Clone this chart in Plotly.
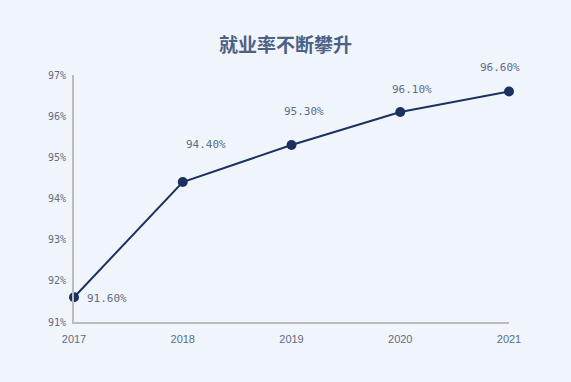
import plotly.graph_objects as go

years = [2017, 2018, 2019, 2020, 2021]
rates = [91.6, 94.4, 95.3, 96.1, 96.6]
labels = ["91.60%", "94.40%", "95.30%", "96.10%", "96.60%"]
y_ticks = [91, 92, 93, 94, 95, 96, 97]
y_tick_text = ["91%", "92%", "93%", "94%", "95%", "96%", "97%"]

# label offsets (pixels) relative to each point
label_dx = [33, 23, 12, 12, -9]
label_dy = [-1, 38, 33, 23, 24]

bg = "#f0f5fc"
tick_color = "#5e6c84"
line_color = "#1b3260"

fig = go.Figure()
fig.add_trace(go.Scatter(
    x=years, y=rates, mode="lines+markers",
    line=dict(color=line_color, width=2),
    marker=dict(color=line_color, size=10),
    cliponaxis=False, hoverinfo="skip",
))

for x, y, t, dx, dy in zip(years, rates, labels, label_dx, label_dy):
    fig.add_annotation(
        x=x, y=y, text=t, showarrow=False,
        xshift=dx, yshift=dy,
        font=dict(family="DejaVu Sans Mono, monospace", size=11, color=tick_color),
    )

fig.update_layout(
    width=571, height=382,
    paper_bgcolor=bg, plot_bgcolor=bg,
    margin=dict(l=74, r=62, t=75, b=60),
    showlegend=False,
    title=dict(
        text="<b>就业率不断攀升</b>", x=0.5, xanchor="center", y=0.88, yanchor="middle",
        font=dict(family="Noto Sans CJK SC", size=19, color="#4d6184"),
    ),
    font=dict(family="Noto Sans CJK SC", size=11, color=tick_color),
)
fig.update_xaxes(
    range=[2017, 2021], tickvals=years, ticktext=[str(y) for y in years],
    showgrid=False, zeroline=False, showline=True, linecolor="#bdbdbd", linewidth=2,
    ticks="", ticklabelstandoff=6,
    tickfont=dict(family="Liberation Sans, Arial", size=11, color=tick_color),
)
fig.update_yaxes(
    range=[91, 97], tickvals=y_ticks, ticktext=y_tick_text,
    showgrid=False, zeroline=False, showline=True, linecolor="#bdbdbd", linewidth=2,
    ticks="", ticklabelstandoff=4,
    tickfont=dict(family="DejaVu Sans Mono, monospace", size=10, color=tick_color),
)

fig.write_html(
    "out.html",
    config={"displayModeBar": False},
    post_script="document.body.style.margin='0';document.body.style.background='%s';" % bg,
)
